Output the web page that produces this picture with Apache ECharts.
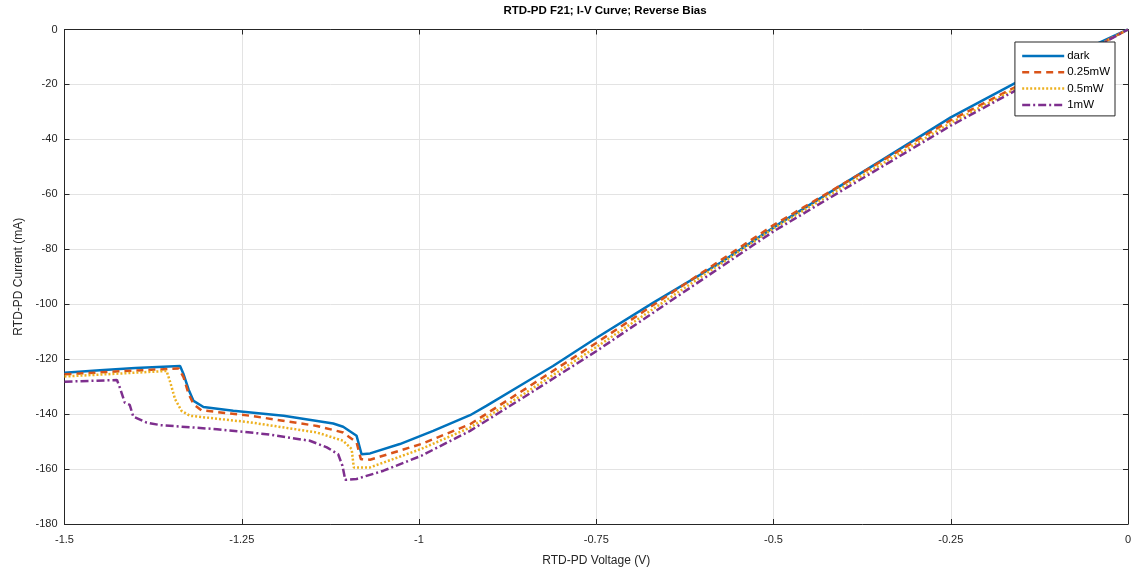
<!DOCTYPE html>
<html>
<head>
<meta charset="utf-8">
<script src="https://cdn.jsdelivr.net/npm/echarts@6/dist/echarts.min.js"></script>
<style>
  html, body { margin: 0; padding: 0; background: #fff; }
  #chart { width: 1139px; height: 572px; }
</style>
</head>
<body>
<div id="chart"></div>
<script>
// RTD-PD F21 I-V curves, reverse bias
const FONT = "Liberation Sans, Arial, sans-serif";

const darkV = [-1.5, -1.45, -1.4, -1.337, -1.332, -1.325, -1.318, -1.304, -1.262, -1.191, -1.121, -1.107, -1.088, -1.081, -1.069, -1.027, -0.98, -0.928, -0.905, -0.85, -0.811, -0.75, -0.67, -0.575, -0.49, -0.35, -0.25, -0.16, -0.08, 0];
const darkI = [-124.9, -124.0, -123.2, -122.5, -125.5, -131, -135.2, -137.4, -138.8, -140.6, -143.4, -144.6, -147.9, -154.6, -154.3, -150.9, -146.1, -140.4, -137, -128.5, -122.5, -112.3, -99.5, -84.9, -70.4, -48, -32, -19.6, -9.5, 0];

const q25V = [-1.5, -1.42, -1.339, -1.332, -1.325, -1.318, -1.307, -1.238, -1.144, -1.107, -1.088, -1.082, -1.069, -0.997, -0.928, -0.85, -0.75, -0.5, -0.25, 0];
const q25I = [-125.5, -124.4, -123.4, -126.6, -132.6, -136.4, -138.6, -140.6, -144.3, -146.7, -150.3, -156.4, -156.6, -150.9, -143.7, -130.8, -114.1, -71.2, -33, 0];

const q50V = [-1.5, -1.42, -1.356, -1.351, -1.344, -1.335, -1.323, -1.238, -1.144, -1.107, -1.095, -1.092, -1.069, -0.997, -0.928, -0.85, -0.75, -0.5, -0.25, 0];
const q50I = [-126.3, -125.2, -124.3, -128.3, -134.6, -138.8, -140.6, -143.0, -146.7, -149.7, -152.7, -159.4, -159.4, -152.7, -144.9, -132.3, -115.6, -72.4, -34, 0];

const q100V = [-1.5, -1.426, -1.422, -1.415, -1.408, -1.403, -1.384, -1.365, -1.285, -1.215, -1.154, -1.130, -1.114, -1.108, -1.104, -1.088, -1.050, -0.997, -0.928, -0.85, -0.75, -0.5, -0.25, 0];
const q100I = [-128.2, -127.6, -130.3, -135.8, -136.6, -140.9, -143.1, -144.0, -145.5, -147.3, -149.7, -152.1, -154.6, -158.8, -163.9, -163.6, -160.6, -155.2, -146.1, -133.5, -117.1, -73.5, -35, 0];

const seriesNames = ["dark", "0.25mW", "0.5mW", "1mW"];
const seriesColors = ["#0072BD", "#D95319", "#EDB120", "#7E2F8E"];

const pairs = (xs, ys) => xs.map((x, i) => [x, ys[i]]);

const chart = echarts.init(document.getElementById("chart"));

const axisCommon = {
  axisLine: { show: true, onZero: false, lineStyle: { color: "#262626", width: 1 } },
  axisTick: { show: true, inside: true, length: 5, lineStyle: { color: "#262626" } }
};

chart.setOption({
  animation: false,
  backgroundColor: "#fff",
  title: {
    text: "RTD-PD F21; I-V Curve; Reverse Bias",
    left: 600, top: 0, textAlign: "center",
    textStyle: { fontFamily: FONT, fontSize: 11.5, fontWeight: "bold", color: "#000" }
  },
  legend: {
    orient: "vertical",
    right: 24, top: 42,
    itemWidth: 42, itemHeight: 12, itemGap: 4.3,
    padding: [8, 5, 5, 6],
    backgroundColor: "#fff",
    borderColor: "#262626", borderWidth: 1,
    itemStyle: { opacity: 0 },
    lineStyle: { width: 2.5 },
    textStyle: { fontFamily: FONT, fontSize: 11.5, color: "#000", padding: [0, 0, 0, -2] },
    data: seriesNames
  },
  grid: { left: 64.5, right: 11, top: 29.5, bottom: 47, containLabel: false },
  xAxis: [{
    type: "value", min: -1.5, max: 0, interval: 0.25,
    name: "RTD-PD Voltage (V)", nameLocation: "middle", nameGap: 31,
    nameTextStyle: { fontFamily: FONT, fontSize: 12, color: "#262626" },
    ...axisCommon,
    axisLabel: {
      fontFamily: FONT, fontSize: 11, color: "#262626", margin: 10,
      formatter: (v) => (v === 0 ? "0" : String(v))
    },
    splitLine: { show: true, lineStyle: { color: "#e3e3e3" } }
  }, {
    type: "value", min: -1.5, max: 0, interval: 0.25, position: "top",
    ...axisCommon, axisLabel: { show: false }, splitLine: { show: false }
  }],
  yAxis: [{
    type: "value", min: -180, max: 0, interval: 20,
    name: "RTD-PD Current (mA)", nameLocation: "middle", nameGap: 36,
    nameTextStyle: { fontFamily: FONT, fontSize: 12, color: "#262626" },
    ...axisCommon,
    axisLabel: { fontFamily: FONT, fontSize: 11, color: "#262626", margin: 7 },
    splitLine: { show: true, lineStyle: { color: "#e3e3e3" } }
  }, {
    type: "value", min: -180, max: 0, interval: 20, position: "right",
    ...axisCommon, axisLabel: { show: false }, splitLine: { show: false }
  }],
  series: [
    { data: pairs(darkV, darkI), dash: "solid" },
    { data: pairs(q25V, q25I), dash: [7, 5] },
    { data: pairs(q50V, q50I), dash: [2, 2] },
    { data: pairs(q100V, q100I), dash: [8, 3, 2, 3] }
  ].map((s, i) => ({
    name: seriesNames[i],
    type: "line",
    symbol: "none",
    data: s.data,
    color: seriesColors[i],
    lineStyle: { width: 2.5, color: seriesColors[i], type: s.dash }
  }))
});
</script>
</body>
</html>
